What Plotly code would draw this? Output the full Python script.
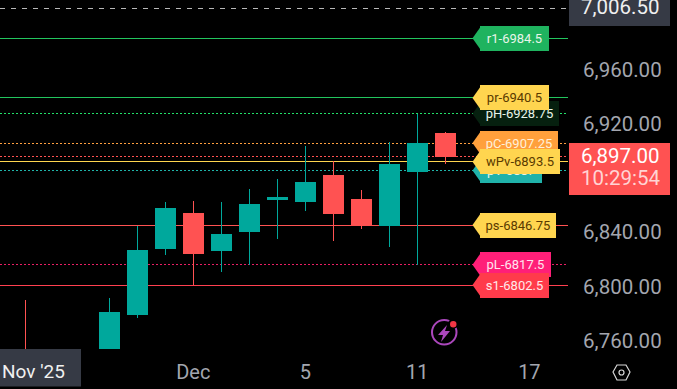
import plotly.graph_objects as go

# Candles
idx    = [0, 3, 4, 5, 6, 7, 8, 9, 10, 11, 12, 13, 14, 15]
opens  = [6752, 6740, 6780.5, 6829.75, 6855, 6828.25, 6842.25, 6865.25, 6864.5, 6883, 6865.25, 6846.75, 6886.5, 6914]
highs  = [6791.5, 6793, 6846.25, 6863.75, 6864.5, 6863.75, 6873.25, 6880.75, 6905, 6894, 6872.5, 6908, 6928.75, 6915.5]
lows   = [6745, 6738, 6778, 6824.5, 6802.5, 6812, 6817.25, 6836.5, 6857, 6835, 6843.75, 6830.5, 6817.25, 6891.75]
closes = [6748, 6782, 6828.25, 6859.25, 6826, 6840, 6862.25, 6867, 6878.5, 6855, 6847.5, 6891.75, 6907.25, 6897]

# Level lines
level_values = [7006.5, 6984.5, 6940.5, 6928.75, 6907.25, 6897, 6893.5, 6887, 6846.75, 6817.5, 6802.5]
level_colors = ['#b8b8b8', '#22c55e', '#22c55e', '#22e06a', '#ff9f40', '#ff5252', '#ffd54f', '#1fb5aa', '#ff5252', '#e91e63', '#ff4050']
level_dashes = ['5px,6px', 'solid', 'solid', '2px,2px', '2px,2px', '2px,2px', 'solid', '2px,2px', 'solid', '2px,2px', 'solid']
level_widths = [1, 1, 1, 1, 1, 1, 1.2, 1, 1, 1, 1]

# Flags, drawn in this order
flag_text  = ['pV-6887', 'pH-6928.75', 'pr-6940.5', 'r1-6984.5', 'pC-6907.25', 'wPv-6893.5', 'ps-6846.75', 'pL-6817.5', 's1-6802.5']
flag_price = [6887, 6928.75, 6940.5, 6984.5, 6907.25, 6893.5, 6846.75, 6817.5, 6802.5]
flag_bg    = ['#20b2aa', '#06200f', '#ffd54f', '#1fb35f', '#ffa03c', '#ffd54f', '#ffd54f', '#ff1f78', '#ff3b4b']
flag_fg    = ['#e8f5e9', '#e8f5e9', '#5a3a00', '#e8f5e9', '#fff0d8', '#5a3a00', '#5a3a00', '#ffe4ee', '#ffe8ea']
flag_width = [62, 79, 69, 69, 78, 80, 76, 71, 69]

y_ticks = [6760, 6800, 6840, 6920, 6960]
x_ticks = [6, 10, 14, 18]
x_labels = ['Dec', '5', '11', '17']

W, H, PW, PH = 677, 389, 568, 349
px = lambda v: v / PW
py = lambda v: 1 - v / PH

fig = go.Figure(go.Candlestick(
    x=idx, open=opens, high=highs, low=lows, close=closes,
    whiskerwidth=0, hoverinfo='skip',
    increasing=dict(line=dict(color='#00a89c', width=1), fillcolor='#00a89c'),
    decreasing=dict(line=dict(color='#ff5252', width=1), fillcolor='#ff5252'),
))

shapes = []
for v, c, d, w in zip(level_values, level_colors, level_dashes, level_widths):
    shapes.append(dict(type='line', xref='paper', x0=0, x1=1, yref='y', y0=v, y1=v, layer='below',
                       line=dict(color=c, width=w, dash=d)))
for v, c in zip(flag_price, flag_bg):
    shapes.append(dict(type='path', xref='paper', yref='paper', layer='above', fillcolor=c, line=dict(width=0),
                       path=f'M {px(472.5)} {py(285 - (v - 6802.5) * 1.3555)} L {px(481)} {py(285 - (v - 6802.5) * 1.3555 - 12)} '
                            f'L {px(481)} {py(285 - (v - 6802.5) * 1.3555 + 12)} Z'))


def box(x0, y0, x1, y1, c):
    shapes.append(dict(type='rect', xref='paper', yref='paper', x0=px(x0), x1=px(x1), y0=py(y0), y1=py(y1),
                       fillcolor=c, line=dict(width=0), layer='above'))


box(569, -2, 670, 26, '#363a45')
box(569, 143, 670, 195, '#ff5252')
box(0, 349, 81, 386.5, '#363a45')

# bolt badge
shapes.append(dict(type='circle', xref='paper', yref='paper', x0=px(432), x1=px(456.5), y0=py(344.5), y1=py(320),
                   line=dict(color='#ab47bc', width=2), layer='above'))
shapes.append(dict(type='path', xref='paper', yref='paper', fillcolor='#ab47bc', line=dict(width=0), layer='above',
                   path=f'M {px(447)} {py(325)} L {px(438)} {py(335)} L {px(443)} {py(335)} L {px(441)} {py(342)} '
                        f'L {px(450)} {py(331)} L {px(445)} {py(331)} Z'))
shapes.append(dict(type='circle', xref='paper', yref='paper', x0=px(448), x1=px(458), y0=py(329), y1=py(319),
                   fillcolor='#000000', line=dict(width=0), layer='above'))
shapes.append(dict(type='circle', xref='paper', yref='paper', x0=px(450), x1=px(456.5), y0=py(327.5), y1=py(321),
                   fillcolor='#f23645', line=dict(width=0), layer='above'))
# settings hexagon
shapes.append(dict(type='path', xref='paper', yref='paper', line=dict(color='#d8d8d8', width=1.2), layer='above',
                   path=f'M {px(613)} {py(372)} L {px(617)} {py(365)} L {px(626)} {py(365)} L {px(630)} {py(372)} '
                        f'L {px(626)} {py(380)} L {px(617)} {py(380)} Z'))
shapes.append(dict(type='circle', xref='paper', yref='paper', x0=px(619), x1=px(624), y0=py(375), y1=py(370),
                   line=dict(color='#d8d8d8', width=1.2), layer='above'))

ann = []
for t, v, bg, fg, w in zip(flag_text, flag_price, flag_bg, flag_fg, flag_width):
    ann.append(dict(text=t, xref='paper', x=px(480), xanchor='left', yref='y', y=v, yanchor='middle', showarrow=False,
                    bgcolor=bg, width=w, height=25, borderpad=0, borderwidth=0, align='center',
                    font=dict(color=fg, size=13, family='Roboto')))


def label(t, x, y, c, size=20.5, anchor='left'):
    ann.append(dict(text=t, xref='paper', yref='paper', x=px(x), y=py(y), xanchor=anchor, yanchor='middle',
                    showarrow=False, font=dict(color=c, size=size, family='Roboto'), borderpad=0))


label('7,006.50', 580, 7, '#f0f0f0')
label('6,897.00', 580, 156, '#ffffff')
label('10:29:54', 580, 178, '#ffd4d4')
label("Nov '25", 1, 371, '#f0f0f0', size=19)

fig.update_layout(
    width=W, height=H, margin=dict(l=0, r=W - PW, t=0, b=H - PH),
    paper_bgcolor='#000000', plot_bgcolor='#000000', showlegend=False, boxgap=0.286, boxgroupgap=0,
    shapes=shapes, annotations=ann,
    xaxis=dict(range=[-0.904, 19.38], showgrid=False, zeroline=False, rangeslider=dict(visible=False),
               tickmode='array', tickvals=x_ticks, ticktext=x_labels, ticks='outside', ticklen=5,
               tickcolor='rgba(0,0,0,0)', tickfont=dict(color='#a3a6af', size=20, family='Roboto'), showline=False),
    yaxis=dict(range=[6755.3, 7012.8], side='right', showgrid=False, zeroline=False, tickmode='array', tickvals=y_ticks,
               tickformat=',.2f', ticks='outside', ticklen=10, tickcolor='rgba(0,0,0,0)', ticklabelshift=-2,
               tickfont=dict(color='#a3a6af', size=20.5, family='Roboto'), showline=False),
)

fig.write_html(
    'out.html',
    config=dict(displayModeBar=False),
    post_script="document.body.style.margin='0';document.body.style.background='#000';document.body.style.overflow='hidden';"
                "document.querySelectorAll('.layer-below .shapelayer path, .boxlayer path').forEach(function(p){p.style.shapeRendering='crispEdges';});",
)
